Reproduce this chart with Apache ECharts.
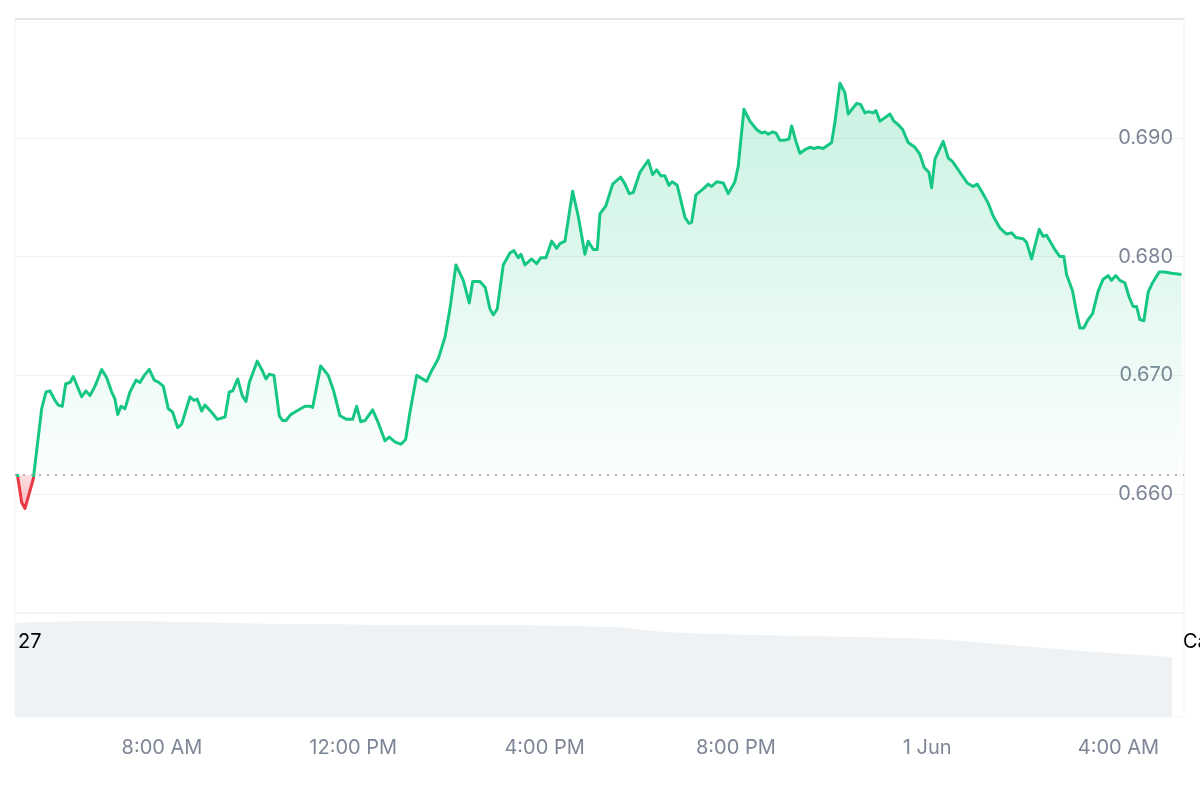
<!DOCTYPE html>
<html><head><meta charset="utf-8">
<script src="https://cdn.jsdelivr.net/npm/echarts@6/dist/echarts.min.js"></script>
<style>html,body{margin:0;padding:0;background:#fff}#c{width:1200px;height:800px}</style>
</head><body><div id="c"></div>
<script>
// hours since 00:00 on 31 May
const hours = [
4.975,5.067,5.136,5.310,5.485,5.575,5.659,5.763,5.832,5.916,5.987,6.077,6.146,6.238,6.321,6.411,6.495,6.600,6.740,6.844,
6.949,7.018,7.074,7.143,7.227,7.331,7.457,7.540,7.630,7.735,7.839,7.938,8.027,8.132,8.224,8.329,8.412,8.586,8.669,8.738,
8.830,8.899,9.039,9.157,9.318,9.407,9.478,9.583,9.679,9.757,9.826,9.993,10.085,10.175,10.244,10.342,10.453,10.524,10.593,10.691,
10.817,10.990,11.095,11.151,11.318,11.477,11.582,11.722,11.862,11.987,12.071,12.155,12.244,12.405,12.523,12.663,12.752,12.872,12.997,13.095,
13.185,13.325,13.534,13.639,13.777,13.917,14.021,14.147,14.300,14.425,14.496,14.649,14.760,14.858,14.927,15.011,15.136,15.276,15.360,15.450,
15.506,15.590,15.730,15.834,15.918,16.029,16.148,16.252,16.321,16.426,16.587,16.704,16.844,16.913,17.018,17.102,17.158,17.284,17.424,17.591,
17.681,17.771,17.854,17.994,18.168,18.260,18.343,18.433,18.517,18.600,18.669,18.774,18.935,19.018,19.075,19.165,19.317,19.422,19.493,19.598,
19.736,19.840,19.980,20.049,20.168,20.294,20.434,20.538,20.608,20.677,20.769,20.838,20.921,21.026,21.110,21.166,21.256,21.339,21.444,21.548,
21.632,21.722,21.826,22.002,22.071,22.176,22.280,22.349,22.525,22.609,22.699,22.768,22.872,22.929,23.012,23.117,23.221,23.305,23.395,23.487,
23.604,23.744,23.848,23.938,24.036,24.093,24.162,24.335,24.440,24.532,24.684,24.837,24.963,25.046,25.138,25.276,25.381,25.521,25.661,25.765,
25.855,26.007,26.078,26.183,26.252,26.342,26.426,26.497,26.580,26.685,26.775,26.858,26.915,27.040,27.124,27.193,27.276,27.366,27.458,27.575,
27.680,27.784,27.855,27.945,28.029,28.133,28.223,28.307,28.378,28.447,28.531,28.621,28.713,28.851,28.970,29.110,29.319
];
const prices = [
.6617,.6593,.6588,.6613,.6672,.6686,.6687,.6679,.6675,.6674,.6693,.6694,.6699,.6690,.6682,.6687,.6683,.6691,.6705,.6698,
.6686,.6680,.6667,.6674,.6672,.6686,.6696,.6694,.6700,.6705,.6696,.6694,.6691,.6672,.6669,.6656,.6659,.6682,.6679,.6680,
.6670,.6675,.6669,.6663,.6665,.6686,.6687,.6697,.6683,.6678,.6694,.6712,.6705,.6697,.6701,.6700,.6666,.6662,.6662,.6667,
.6670,.6674,.6674,.6673,.6708,.6700,.6688,.6666,.6663,.6663,.6674,.6661,.6662,.6671,.6660,.6645,.6648,.6644,.6642,.6646,
.6669,.6700,.6695,.6704,.6714,.6732,.6756,.6793,.6780,.6761,.6779,.6779,.6774,.6756,.6751,.6756,.6793,.6803,.6805,.6799,
.6802,.6793,.6798,.6794,.6799,.6799,.6813,.6807,.6811,.6813,.6855,.6834,.6802,.6813,.6806,.6806,.6836,.6843,.6861,.6867,
.6861,.6853,.6854,.6871,.6881,.6869,.6873,.6868,.6868,.6860,.6863,.6860,.6833,.6828,.6829,.6852,.6857,.6861,.6859,.6863,
.6862,.6853,.6863,.6876,.6924,.6914,.6907,.6904,.6905,.6903,.6905,.6904,.6898,.6898,.6899,.6910,.6897,.6887,.6890,.6892,
.6891,.6892,.6891,.6896,.6913,.6946,.6938,.6920,.6929,.6928,.6921,.6922,.6921,.6923,.6914,.6917,.6920,.6914,.6911,.6907,
.6896,.6892,.6886,.6875,.6871,.6858,.6882,.6897,.6883,.6880,.6871,.6862,.6859,.6861,.6855,.6845,.6834,.6824,.6819,.6820,
.6816,.6815,.6812,.6798,.6809,.6823,.6817,.6818,.6812,.6805,.6800,.6800,.6785,.6771,.6753,.6740,.6740,.6747,.6752,.6771,
.6781,.6784,.6780,.6784,.6780,.6778,.6766,.6758,.6758,.6747,.6746,.6770,.6778,.6787,.6787,.6786,.6785
];
const baseline = 0.6616;
const volHours = [4.93,5.5,6.5,7.5,8.5,9.5,10.5,11.5,12.5,13.5,14.5,15.5,16.5,17.5,18.5,19.5,20.5,21.5,22.5,23.5,24.5,25.5,26.5,27.5,28.5,29.12];
const volumes = [90.4,91.3,92.3,92.3,91.3,90.4,89.4,89.4,88.5,88.5,88.5,88.5,87.5,86.5,81.7,79.8,78.8,77.9,76.9,76.0,74.0,70.2,66.3,62.5,59.6,57.7];
const xTickHours = [8,12,16,20,24,28];
const xTickLabels = ['8:00 AM','12:00 PM','4:00 PM','8:00 PM','1 Jun','4:00 AM'];
const navLeftLabel = '27';
const navRightLabel = 'Ca';

const GREEN = '#16c784', RED = '#ea3943';
const maxV = Math.max(...prices), minV = Math.min(...prices);
const f = (maxV - baseline) / (maxV - minV);
const X_MIN = 4.927, X_MAX = 29.37;
const FONT = 'Inter';

const chart = echarts.init(document.getElementById('c'), null, {renderer:'canvas'});
chart.setOption({
  animation: false,
  backgroundColor: '#ffffff',
  textStyle: {fontFamily: FONT},
  grid: [
    {left: 15, right: 16, top: 19, height: 594, show: true, borderColor: '#f0f1f3', borderWidth: 1, outerBoundsMode: 'none', containLabel: false},
    {left: 15, right: 16, top: 613, height: 104, show: true, borderColor: '#f3f4f6', borderWidth: 1, outerBoundsMode: 'none', containLabel: false}
  ],
  xAxis: [
    {type: 'value', gridIndex: 0, min: X_MIN, max: X_MAX, show: false},
    {type: 'value', gridIndex: 1, min: X_MIN, max: X_MAX,
     axisLine: {show: false}, axisTick: {show: false}, splitLine: {show: false},
     axisLabel: {customValues: xTickHours, margin: 21, color: '#7d8596', fontSize: 20, fontFamily: FONT,
       formatter: v => { const i = xTickHours.findIndex(t => Math.abs(t - v) < 1e-6); return i >= 0 ? xTickLabels[i] : ''; }}}
  ],
  yAxis: [
    {type: 'value', gridIndex: 0, position: 'right', min: 0.65, max: 0.70, interval: 0.01,
     axisLine: {show: false}, axisTick: {show: false},
     splitLine: {show: true, lineStyle: {color: '#eff1f4', width: 1}},
     axisLabel: {inside: true, margin: 11, color: '#7d8596', fontSize: 20, fontFamily: FONT,
       showMinLabel: false, showMaxLabel: false, formatter: v => v.toFixed(3)}},
    {type: 'value', gridIndex: 1, min: 0, max: 100, show: false}
  ],
  series: [
    {
      type: 'line', xAxisIndex: 0, yAxisIndex: 0,
      data: hours.map((h, i) => [h, prices[i]]),
      symbol: 'none', smooth: false,
      lineStyle: {width: 3, join: 'round',
        color: {type: 'linear', x: 0, y: 0, x2: 0, y2: 1, colorStops: [
          {offset: 0, color: GREEN}, {offset: f, color: GREEN},
          {offset: f, color: RED}, {offset: 1, color: RED}
        ]}},
      itemStyle: {color: GREEN},
      areaStyle: {
        origin: baseline,
        color: {type: 'linear', x: 0, y: 0, x2: 0, y2: 1, colorStops: [
          {offset: 0, color: 'rgba(22,199,132,0.34)'},
          {offset: f, color: 'rgba(22,199,132,0.02)'},
          {offset: f, color: 'rgba(234,57,67,0.25)'},
          {offset: 1, color: 'rgba(234,57,67,0.45)'}
        ]}
      },
      markLine: {
        silent: true, symbol: ['none', 'none'], label: {show: false}, precision: 6,
        lineStyle: {type: [2, 6], color: '#9aa0a8', width: 1.5},
        data: [{yAxis: baseline}]
      },
      z: 3
    },
    {
      type: 'line', xAxisIndex: 1, yAxisIndex: 1,
      data: volHours.map((h, i) => [h, volumes[i]]),
      symbol: 'none', lineStyle: {width: 0, color: '#eff2f5'},
      itemStyle: {color: '#eff2f5'},
      areaStyle: {color: '#eff2f5', opacity: 1},
      z: 1
    }
  ],
  graphic: [
    {type: 'line', shape: {x1: 15, y1: 19, x2: 1184, y2: 19}, style: {stroke: '#e4e6e9', lineWidth: 2}, z: 10},
    {type: 'text', left: 18, top: 632, style: {text: navLeftLabel, fill: '#000', font: '20px Inter'}, z: 10},
    {type: 'text', left: 1183, top: 632, style: {text: navRightLabel, fill: '#000', font: '20px Inter'}, z: 10}
  ]
});
</script>
</body></html>
